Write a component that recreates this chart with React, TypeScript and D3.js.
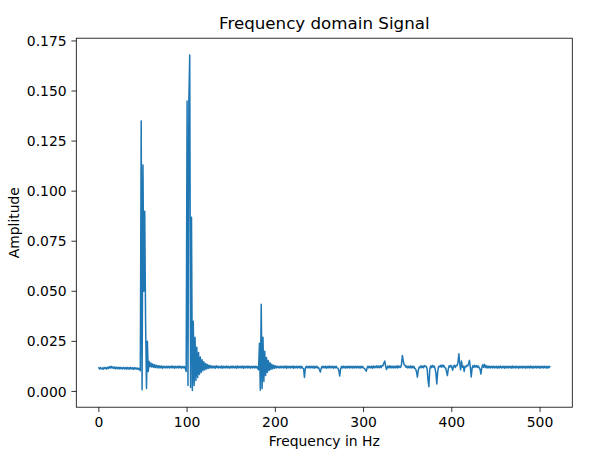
import React from "react";
import * as d3 from "d3";

// Frequency axis: 0..511 Hz, one amplitude per Hz
const amplitudes: number[] = [
  0.0118, 0.0112, 0.0119, 0.0113, 0.0117, 0.0111, 0.0120, 0.0114, 0.0119, 0.0112, 0.0121, 0.0115, 0.0124, 0.0117, 0.0125, 0.0116,
  0.0123, 0.0115, 0.0122, 0.0113, 0.0121, 0.0114, 0.0120, 0.0112, 0.0121, 0.0113, 0.0119, 0.0112, 0.0120, 0.0113, 0.0119, 0.0111,
  0.0120, 0.0112, 0.0119, 0.0111, 0.0120, 0.0113, 0.0118, 0.0110, 0.0119, 0.0112, 0.0118, 0.0111, 0.0117, 0.0110, 0.0115, 0.0103,
  0.1350, 0.0008, 0.1130, 0.0500, 0.0900, 0.0340, 0.0015, 0.0250, 0.0100, 0.0150, 0.0124, 0.0142, 0.0122, 0.0137, 0.0120, 0.0133,
  0.0119, 0.0131, 0.0118, 0.0129, 0.0117, 0.0128, 0.0118, 0.0127, 0.0116, 0.0126, 0.0118, 0.0125, 0.0117, 0.0126, 0.0118, 0.0125,
  0.0117, 0.0126, 0.0118, 0.0127, 0.0117, 0.0125, 0.0116, 0.0126, 0.0118, 0.0125, 0.0117, 0.0127, 0.0118, 0.0125, 0.0116, 0.0126,
  0.0118, 0.0124, 0.0113, 0.0100, 0.1450, 0.0030, 0.1450, 0.1680, 0.0020, 0.0870, 0.0005, 0.0350, 0.0030, 0.0270, 0.0055, 0.0220,
  0.0070, 0.0195, 0.0085, 0.0172, 0.0095, 0.0158, 0.0103, 0.0148, 0.0108, 0.0140, 0.0112, 0.0135, 0.0115, 0.0131, 0.0117, 0.0128,
  0.0117, 0.0127, 0.0118, 0.0126, 0.0116, 0.0128, 0.0118, 0.0126, 0.0117, 0.0125, 0.0118, 0.0127, 0.0116, 0.0126, 0.0118, 0.0125,
  0.0117, 0.0127, 0.0118, 0.0125, 0.0116, 0.0126, 0.0118, 0.0127, 0.0117, 0.0125, 0.0118, 0.0126, 0.0116, 0.0127, 0.0118, 0.0125,
  0.0117, 0.0126, 0.0118, 0.0127, 0.0116, 0.0125, 0.0118, 0.0126, 0.0117, 0.0127, 0.0118, 0.0125, 0.0116, 0.0126, 0.0118, 0.0125,
  0.0117, 0.0126, 0.0118, 0.0125, 0.0115, 0.0108, 0.0240, 0.0006, 0.0435, 0.0015, 0.0270, 0.0050, 0.0200, 0.0080, 0.0170, 0.0095,
  0.0155, 0.0105, 0.0143, 0.0110, 0.0136, 0.0113, 0.0131, 0.0116, 0.0128, 0.0117, 0.0126, 0.0118, 0.0125, 0.0117, 0.0126, 0.0118,
  0.0125, 0.0117, 0.0126, 0.0118, 0.0127, 0.0116, 0.0125, 0.0118, 0.0126, 0.0117, 0.0125, 0.0118, 0.0127, 0.0116, 0.0125, 0.0118,
  0.0126, 0.0117, 0.0125, 0.0118, 0.0126, 0.0116, 0.0125, 0.0117, 0.0113, 0.0070, 0.0116, 0.0126, 0.0117, 0.0125, 0.0118, 0.0126,
  0.0117, 0.0125, 0.0118, 0.0126, 0.0116, 0.0125, 0.0118, 0.0126, 0.0117, 0.0120, 0.0108, 0.0097, 0.0115, 0.0126, 0.0117, 0.0125,
  0.0118, 0.0126, 0.0116, 0.0125, 0.0118, 0.0127, 0.0117, 0.0125, 0.0118, 0.0126, 0.0116, 0.0125, 0.0118, 0.0126, 0.0117, 0.0116,
  0.0104, 0.0077, 0.0112, 0.0125, 0.0117, 0.0126, 0.0118, 0.0125, 0.0116, 0.0126, 0.0118, 0.0125, 0.0117, 0.0126, 0.0118, 0.0125,
  0.0116, 0.0126, 0.0118, 0.0125, 0.0117, 0.0126, 0.0118, 0.0125, 0.0116, 0.0126, 0.0118, 0.0125, 0.0117, 0.0114, 0.0108, 0.0101,
  0.0118, 0.0126, 0.0117, 0.0125, 0.0118, 0.0126, 0.0116, 0.0127, 0.0118, 0.0126, 0.0119, 0.0128, 0.0118, 0.0127, 0.0119, 0.0128,
  0.0119, 0.0129, 0.0128, 0.0142, 0.0152, 0.0126, 0.0109, 0.0126, 0.0118, 0.0128, 0.0117, 0.0127, 0.0118, 0.0126, 0.0117, 0.0126,
  0.0118, 0.0127, 0.0117, 0.0128, 0.0119, 0.0126, 0.0120, 0.0136, 0.0180, 0.0152, 0.0133, 0.0130, 0.0121, 0.0127, 0.0117, 0.0126,
  0.0118, 0.0127, 0.0117, 0.0126, 0.0118, 0.0125, 0.0115, 0.0112, 0.0098, 0.0071, 0.0105, 0.0122, 0.0118, 0.0128, 0.0119, 0.0127,
  0.0118, 0.0129, 0.0124, 0.0126, 0.0113, 0.0060, 0.0024, 0.0110, 0.0127, 0.0119, 0.0130, 0.0121, 0.0127, 0.0114, 0.0090, 0.0037,
  0.0099, 0.0124, 0.0123, 0.0130, 0.0121, 0.0132, 0.0123, 0.0130, 0.0118, 0.0117, 0.0099, 0.0079, 0.0112, 0.0128, 0.0122, 0.0130,
  0.0121, 0.0106, 0.0127, 0.0131, 0.0120, 0.0130, 0.0129, 0.0146, 0.0188, 0.0138, 0.0108, 0.0152, 0.0121, 0.0127, 0.0100, 0.0126,
  0.0122, 0.0130, 0.0127, 0.0138, 0.0155, 0.0120, 0.0072, 0.0116, 0.0129, 0.0120, 0.0130, 0.0122, 0.0129, 0.0120, 0.0127, 0.0119,
  0.0110, 0.0087, 0.0119, 0.0133, 0.0121, 0.0135, 0.0119, 0.0129, 0.0117, 0.0127, 0.0118, 0.0126, 0.0117, 0.0125, 0.0118, 0.0126,
  0.0117, 0.0125, 0.0118, 0.0126, 0.0116, 0.0125, 0.0118, 0.0127, 0.0117, 0.0125, 0.0118, 0.0126, 0.0116, 0.0125, 0.0118, 0.0126,
  0.0117, 0.0125, 0.0118, 0.0126, 0.0116, 0.0127, 0.0118, 0.0125, 0.0117, 0.0126, 0.0118, 0.0125, 0.0116, 0.0126, 0.0118, 0.0125,
  0.0117, 0.0126, 0.0118, 0.0125, 0.0116, 0.0126, 0.0118, 0.0125, 0.0117, 0.0127, 0.0118, 0.0125, 0.0116, 0.0126, 0.0118, 0.0125,
  0.0117, 0.0126, 0.0118, 0.0125, 0.0116, 0.0126, 0.0118, 0.0125, 0.0117, 0.0126, 0.0118, 0.0125, 0.0116, 0.0126, 0.0118, 0.0124,
];

const frequencies: number[] = amplitudes.map((_, i) => i);

const xTicks: number[] = [0, 100, 200, 300, 400, 500];
const yTicks: number[] = [0, 0.025, 0.05, 0.075, 0.1, 0.125, 0.15, 0.175];

const title = "Frequency domain Signal";
const xLabel = "Frequency in Hz";
const yLabel = "Amplitude";

const W = 602;
const H = 457;
const AX = { left: 76.3, right: 572.3, top: 38.2, bottom: 407.2 };
const FONT = "DejaVu Sans, sans-serif";
const COLOR = "#1f77b4";

export default function App() {
  const xMin = d3.min(frequencies)!;
  const xMax = d3.max(frequencies)!;
  const xPad = (xMax - xMin) * 0.05;
  const yMin = d3.min(amplitudes)!;
  const yMax = d3.max(amplitudes)!;
  const yPad = (yMax - yMin) * 0.05;

  const x = d3.scaleLinear().domain([xMin - xPad, xMax + xPad]).range([AX.left, AX.right]);
  const y = d3.scaleLinear().domain([yMin - yPad, yMax + yPad]).range([AX.bottom, AX.top]);

  const pts: [number, number][] = frequencies.map((f, i) => [f, amplitudes[i]]);
  const line = d3
    .line<[number, number]>()
    .x((d) => x(d[0]))
    .y((d) => y(d[1]));

  const tickLen = 4.86;
  const fs = 13.9;

  return (
    <svg
      width={W}
      height={H}
      viewBox={`0 0 ${W} ${H}`}
      style={{ position: "absolute", left: 0, top: 0, background: "#fff" }}
    >
      <rect x={0} y={0} width={W} height={H} fill="#fff" />
      <defs>
        <clipPath id="axclip">
          <rect x={AX.left} y={AX.top} width={AX.right - AX.left} height={AX.bottom - AX.top} />
        </clipPath>
      </defs>
      <path
        d={line(pts) || ""}
        fill="none"
        stroke={COLOR}
        strokeWidth={1.5}
        strokeLinejoin="round"
        strokeLinecap="square"
        clipPath="url(#axclip)"
      />
      <rect
        x={AX.left}
        y={AX.top}
        width={AX.right - AX.left}
        height={AX.bottom - AX.top}
        fill="none"
        stroke="#000"
        strokeWidth={0.8}
      />
      {xTicks.map((t) => (
        <g key={`x${t}`}>
          <line x1={x(t)} x2={x(t)} y1={AX.bottom} y2={AX.bottom + tickLen} stroke="#000" strokeWidth={0.8} />
          <text
            x={x(t)}
            y={AX.bottom + tickLen + 4.86 + 10.3}
            textAnchor="middle"
            fontFamily={FONT}
            fontSize={fs}
            fill="#000"
          >
            {String(t)}
          </text>
        </g>
      ))}
      {yTicks.map((t) => (
        <g key={`y${t}`}>
          <line x1={AX.left - tickLen} x2={AX.left} y1={y(t)} y2={y(t)} stroke="#000" strokeWidth={0.8} />
          <text
            x={AX.left - tickLen - 4.86}
            y={y(t) + 5.1}
            textAnchor="end"
            fontFamily={FONT}
            fontSize={fs}
            fill="#000"
          >
            {t.toFixed(3)}
          </text>
        </g>
      ))}
      <text
        x={(AX.left + AX.right) / 2}
        y={AX.top - 9.5}
        textAnchor="middle"
        fontFamily={FONT}
        fontSize={16.7}
        fill="#000"
      >
        {title}
      </text>
      <text
        x={(AX.left + AX.right) / 2}
        y={446}
        textAnchor="middle"
        fontFamily={FONT}
        fontSize={fs}
        fill="#000"
      >
        {xLabel}
      </text>
      <text
        transform={`translate(${18.5}, ${(AX.top + AX.bottom) / 2}) rotate(-90)`}
        textAnchor="middle"
        fontFamily={FONT}
        fontSize={fs}
        fill="#000"
      >
        {yLabel}
      </text>
    </svg>
  );
}
